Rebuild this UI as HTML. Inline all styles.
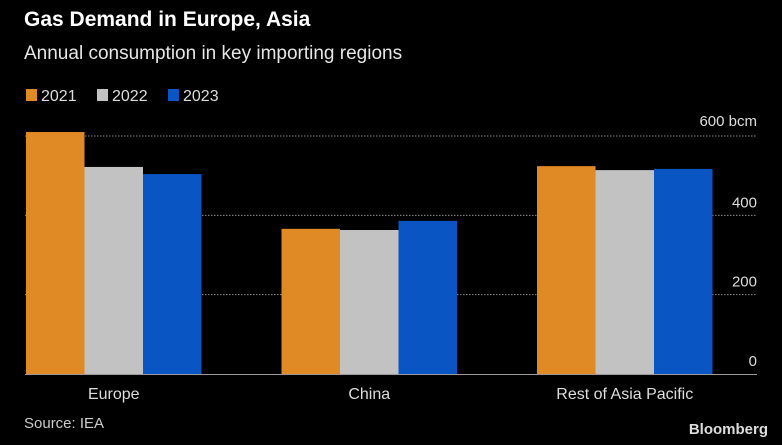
<!DOCTYPE html>
<html><head><meta charset="utf-8"><style>
body{margin:0;background:#000;width:782px;height:440px;overflow:hidden;font-family:"Liberation Sans Narrow","Liberation Sans",sans-serif;color:#ddd}
svg text{font-family:"Liberation Sans Narrow","Liberation Sans",sans-serif}
</style></head><body>
<svg width="782" height="440">
<text x="24" y="26" fill="#fff" font-size="21" font-weight="bold" font-family="Liberation Sans">Gas Demand in Europe, Asia</text>
<text x="24" y="59" fill="#e6e6e6" font-size="19" font-family="Liberation Sans">Annual consumption in key importing regions</text>
<g id="legend"></g>
<g id="grid"></g>
<g id="bars"></g>
<g id="labels"></g>
<text x="24" y="428" fill="#ccc" font-size="15">Source: IEA</text>
<text x="768" y="434" text-anchor="end" fill="#ddd" font-size="15" font-weight="bold" font-family="Liberation Sans">Bloomberg</text>
</svg>
<script>
const categories=["Europe","China","Rest of Asia Pacific"];
const seriesNames=["2021","2022","2023"];
const v2021=[610,366,524];
const v2022=[522,363,514];
const v2023=[504,386,517];
const ticks=[0,200,400,600];
const tickLabels=["0","200","400","600 bcm"];
const colors=["#e08a25","#c2c2c2","#0a55c4"];
const NS="http://www.w3.org/2000/svg";
const y0=374,yTop=136,vMax=600;
const y=v=>y0-(v/vMax)*(y0-yTop);
const groupLeft=i=>26+i*255.5, barW=58.5;
function mk(t,a,p){const e=document.createElementNS(NS,t);for(const k in a)e.setAttribute(k,a[k]);p.appendChild(e);return e;}
const grid=document.getElementById('grid');
ticks.forEach((t,i)=>{
  if(t>0){const l=mk('line',{x1:25,x2:757,y1:y(t),y2:y(t),stroke:'#888','stroke-width':1,'stroke-dasharray':'1.5,1.5'},grid);
  
  }
  const tx=mk('text',{x:757,y:t===600?y(t)-10:y(t)-8,'text-anchor':'end',fill:'#ddd','font-size':15},grid);
  tx.textContent=tickLabels[i];
  
  
});
const bars=document.getElementById('bars');
const all=[v2021,v2022,v2023];
categories.forEach((c,i)=>{
  all.forEach((s,j)=>{
    const r=mk('rect',{x:groupLeft(i)+j*barW,y:y(s[i]),width:barW,height:y0-y(s[i]),fill:colors[j]},bars);
    
    
  });
  const t=mk('text',{x:groupLeft(i)+barW*1.5,y:399,'text-anchor':'middle',fill:'#ddd','font-size':16},document.getElementById('labels'));
  t.textContent=c;
  
  
});
const ax=mk('line',{x1:25,x2:757,y1:y0+0.5,y2:y0+0.5,stroke:'#999','stroke-width':1},grid);


const lg=document.getElementById('legend');
let lx=26;
seriesNames.forEach((n,j)=>{
  const r=mk('rect',{x:lx,y:89,width:11,height:12,fill:colors[j]},lg);
  
  
  const t=mk('text',{x:lx+15,y:101,fill:'#ddd','font-size':16},lg);
  t.textContent=n;
  
  
  lx+=71;
});
</script>
</body></html>
